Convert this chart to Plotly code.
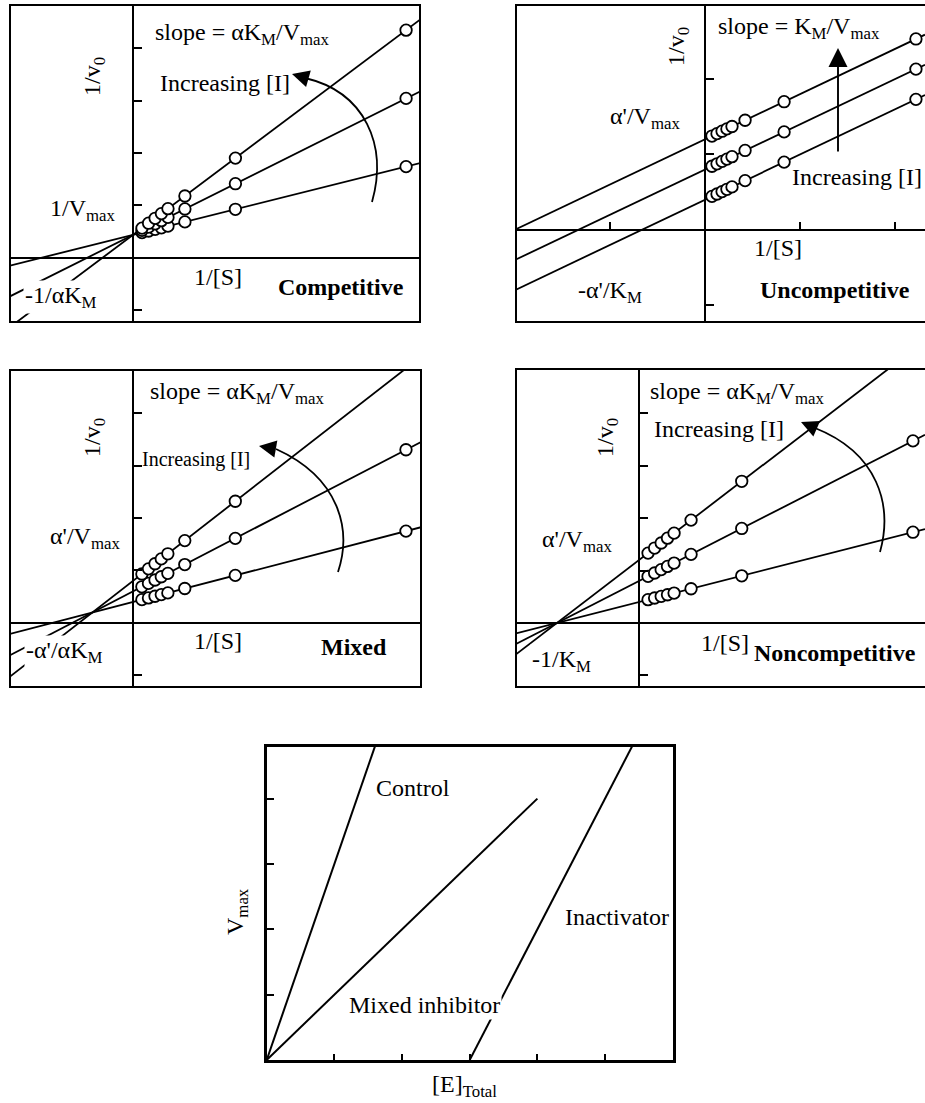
import plotly.graph_objects as go

W, H = 925, 1103
FONT = "Liberation Serif, Times New Roman, serif"

# 1/[S] values of the measured points (same substrate series in every plot)
inv_s = [0.33, 0.57, 0.81, 1.04, 1.28, 1.9, 3.75, 10.0]

# Lineweaver-Burk lines for three inhibitor levels: 1/v0 = intercept + slope * 1/[S]
comp_intercept = [0.44, 0.44, 0.44]
comp_slope = [0.13, 0.26, 0.39]
uncomp_intercept = [0.4, 0.8, 1.2]
uncomp_slope = [0.133, 0.133, 0.133]
mixed_intercept = [0.4, 0.6, 0.8]
mixed_slope = [0.135, 0.27, 0.405]
noncomp_intercept = [0.4, 0.8, 1.2]
noncomp_slope = [0.133, 0.267, 0.4]

# Vmax against total enzyme
control_e = [0, 1.6]
control_v = [0, 4.8]
mixed_e = [0, 4]
mixed_v = [0, 4]
inact_e = [3, 5.4]
inact_v = [0, 4.8]


def fx(xp):
    return xp / W


def fy(yp):
    return 1 - yp / H


# panel geometry in page pixels: left, right, top, bottom
panels = [
    dict(box=(10, 420, 5, 322), xr=[-4.505, 10.51], yr=[-1.22, 4.82],
         yt=[-1, 1, 2, 3, 4], xt=[], b=comp_intercept, s=comp_slope),
    dict(box=(516, 925, 5, 322), xr=[-8.96, 10.43], yr=[-1.22, 2.98],
         yt=[-1, 1, 2], xt=[-4.5, 4.5, 9], b=uncomp_intercept, s=uncomp_slope),
    dict(box=(10, 421, 370, 687), xr=[-4.5, 10.55], yr=[-1.22, 4.82],
         yt=[-1, 1, 2, 3, 4], xt=[], b=mixed_intercept, s=mixed_slope),
    dict(box=(516, 925, 369, 687), xr=[-4.49, 10.44], yr=[-1.22, 4.84],
         yt=[-1, 1, 2, 3, 4], xt=[], b=noncomp_intercept, s=noncomp_slope),
]

fig = go.Figure()
layout = dict(
    width=W, height=H, margin=dict(l=0, r=0, t=0, b=0),
    paper_bgcolor="white", plot_bgcolor="white", showlegend=False,
    font=dict(family=FONT, size=24, color="black"),
)
shapes = []

for i, p in enumerate(panels, start=1):
    l, r, t, b = p["box"]
    xd = [fx(l), min(fx(r), 1.0)]
    yd = [fy(b), fy(t)]
    xr, yr = p["xr"], p["yr"]
    xname = "xaxis" if i == 1 else f"xaxis{i}"
    yname = "yaxis" if i == 1 else f"yaxis{i}"
    xref = "x" if i == 1 else f"x{i}"
    yref = "y" if i == 1 else f"y{i}"
    # axes cross at the origin inside the frame
    xpos = yd[0] + (0 - yr[0]) / (yr[1] - yr[0]) * (yd[1] - yd[0])
    ypos = xd[0] + (0 - xr[0]) / (xr[1] - xr[0]) * (xd[1] - xd[0])
    layout[xname] = dict(
        domain=xd, range=xr, anchor="free", position=xpos,
        showline=True, linewidth=2, linecolor="black", showgrid=False,
        zeroline=False, ticks="inside" if p["xt"] else "", tickvals=p["xt"],
        ticklen=7, tickwidth=1.5, tickcolor="black", showticklabels=False,
    )
    layout[yname] = dict(
        domain=yd, range=yr, anchor="free", position=ypos,
        showline=True, linewidth=2, linecolor="black", showgrid=False,
        zeroline=False, ticks="inside", tickvals=p["yt"],
        ticklen=8, tickwidth=1.5, tickcolor="black", showticklabels=False,
    )
    shapes.append(dict(
        type="rect", xref=f"{xref} domain", yref=f"{yref} domain",
        x0=0, x1=1.0 if r < W else 1.03, y0=0, y1=1,
        line=dict(color="black", width=2), fillcolor="rgba(0,0,0,0)",
    ))
    for bi, si in zip(p["b"], p["s"]):
        fig.add_trace(go.Scatter(
            x=xr, y=[bi + si * xv for xv in xr], mode="lines",
            line=dict(color="black", width=1.8), xaxis=xref, yaxis=yref,
            hoverinfo="skip",
        ))
    for bi, si in zip(p["b"], p["s"]):
        fig.add_trace(go.Scatter(
            x=inv_s, y=[bi + si * xv for xv in inv_s], mode="markers",
            marker=dict(symbol="circle", size=11.5, color="white",
                        line=dict(color="black", width=1.8)),
            xaxis=xref, yaxis=yref, cliponaxis=False, hoverinfo="skip",
        ))

# Vmax vs [E]total panel
l, r, t, b = 266.7, 672.7, 747, 1060
layout["xaxis5"] = dict(
    domain=[fx(l), fx(r)], range=[0, 6], anchor="y5",
    showline=True, mirror=True, linewidth=2.5, linecolor="black",
    showgrid=False, zeroline=False, ticks="inside", tickvals=[1, 2, 3, 4, 5],
    ticklen=6, tickwidth=1.5, tickcolor="black", showticklabels=False,
)
layout["yaxis5"] = dict(
    domain=[fy(b), fy(t)], range=[0, 4.79], anchor="x5",
    showline=True, mirror=True, linewidth=2.5, linecolor="black",
    showgrid=False, zeroline=False, ticks="inside", tickvals=[1, 2, 3, 4],
    ticklen=8, tickwidth=1.5, tickcolor="black", showticklabels=False,
)
for ex, vy in [(control_e, control_v), (mixed_e, mixed_v), (inact_e, inact_v)]:
    fig.add_trace(go.Scatter(
        x=ex, y=vy, mode="lines", line=dict(color="black", width=2),
        xaxis="x5", yaxis="y5", hoverinfo="skip",
    ))

# curved "Increasing [I]" arrows (page pixel coordinates)
arcs = [
    [(372, 202), (388, 145), (365, 92), (305, 78)],
    [(338, 572), (352, 530), (340, 478), (276, 449)],
    [(880, 552), (893, 505), (878, 453), (815, 428)],
]
for pts in arcs:
    (x0, y0), (x1, y1), (x2, y2), (x3, y3) = pts
    path = (f"M {fx(x0)},{fy(y0)} C {fx(x1)},{fy(y1)} "
            f"{fx(x2)},{fy(y2)} {fx(x3)},{fy(y3)}")
    shapes.append(dict(type="path", xref="paper", yref="paper", path=path,
                       line=dict(color="black", width=1.8),
                       fillcolor="rgba(0,0,0,0)"))
layout["shapes"] = shapes

annotations = []


def label(text, x, y, size=24, anchor="left", angle=0, bg=None):
    d = dict(text=text, x=fx(x), y=fy(y), xref="paper", yref="paper",
             xanchor=anchor, yanchor="middle", showarrow=False,
             textangle=angle, font=dict(family=FONT, size=size, color="black"))
    if bg:
        d["bgcolor"] = bg
    annotations.append(d)


def arrow_head(tip, tail, size=1.9, width=1.8):
    annotations.append(dict(
        text="", x=fx(tip[0]), y=fy(tip[1]), xref="paper", yref="paper",
        ax=tail[0] - tip[0], ay=tail[1] - tip[1], showarrow=True,
        arrowhead=2, arrowsize=size, arrowwidth=width, arrowcolor="black",
        standoff=0,
    ))


# Competitive
label("slope = αK<sub>M</sub>/V<sub>max</sub>", 153, 34)
label("Increasing [I]", 158, 83)
label("1/v<sub>0</sub>", 94, 77, anchor="center", angle=-90)
label("1/V<sub>max</sub>", 48, 210)
label("1/[S]", 192, 277)
label("<b>Competitive</b>", 276, 287)
label("-1/αK<sub>M</sub>", 23, 297, bg="white")
arrow_head((292, 74), (306, 78))

# Uncompetitive
label("slope = K<sub>M</sub>/V<sub>max</sub>", 716, 28)
label("1/v<sub>0</sub>", 678, 47, anchor="center", angle=-90)
label("α'/V<sub>max</sub>", 608, 118)
label("Increasing [I]", 790, 177)
label("1/[S]", 752, 248)
label("<b>Uncompetitive</b>", 758, 290)
label("-α'/K<sub>M</sub>", 576, 292)
arrow_head((838, 48), (838, 153), size=2.0, width=1.9)

# Mixed
label("slope = αK<sub>M</sub>/V<sub>max</sub>", 148, 393)
label("1/v<sub>0</sub>", 94, 438, anchor="center", angle=-90)
label("Increasing [I]", 140, 459, size=20)
label("α'/V<sub>max</sub>", 48, 538)
label("1/[S]", 192, 641)
label("<b>Mixed</b>", 319, 647)
label("-α'/αK<sub>M</sub>", 24, 652, bg="white")
arrow_head((259, 446), (276, 449))

# Noncompetitive
label("slope = αK<sub>M</sub>/V<sub>max</sub>", 648, 393)
label("1/v<sub>0</sub>", 607, 438, anchor="center", angle=-90)
label("Increasing [I]", 652, 429)
label("α'/V<sub>max</sub>", 540, 541)
label("1/[S]", 699, 643)
label("<b>Noncompetitive</b>", 752, 653)
label("-1/K<sub>M</sub>", 530, 661, bg="white")
arrow_head((801, 422), (815, 428))

# Vmax vs [E]total
label("Control", 374, 788)
label("Mixed inhibitor", 347, 1005, bg="white")
label("Inactivator", 563, 917)
label("V<sub>max</sub>", 237, 912, anchor="center", angle=-90)
label("[E]<sub>Total</sub>", 464, 1086, anchor="center")

layout["annotations"] = annotations
fig.update_layout(**layout)
fig.write_html("out.html")
